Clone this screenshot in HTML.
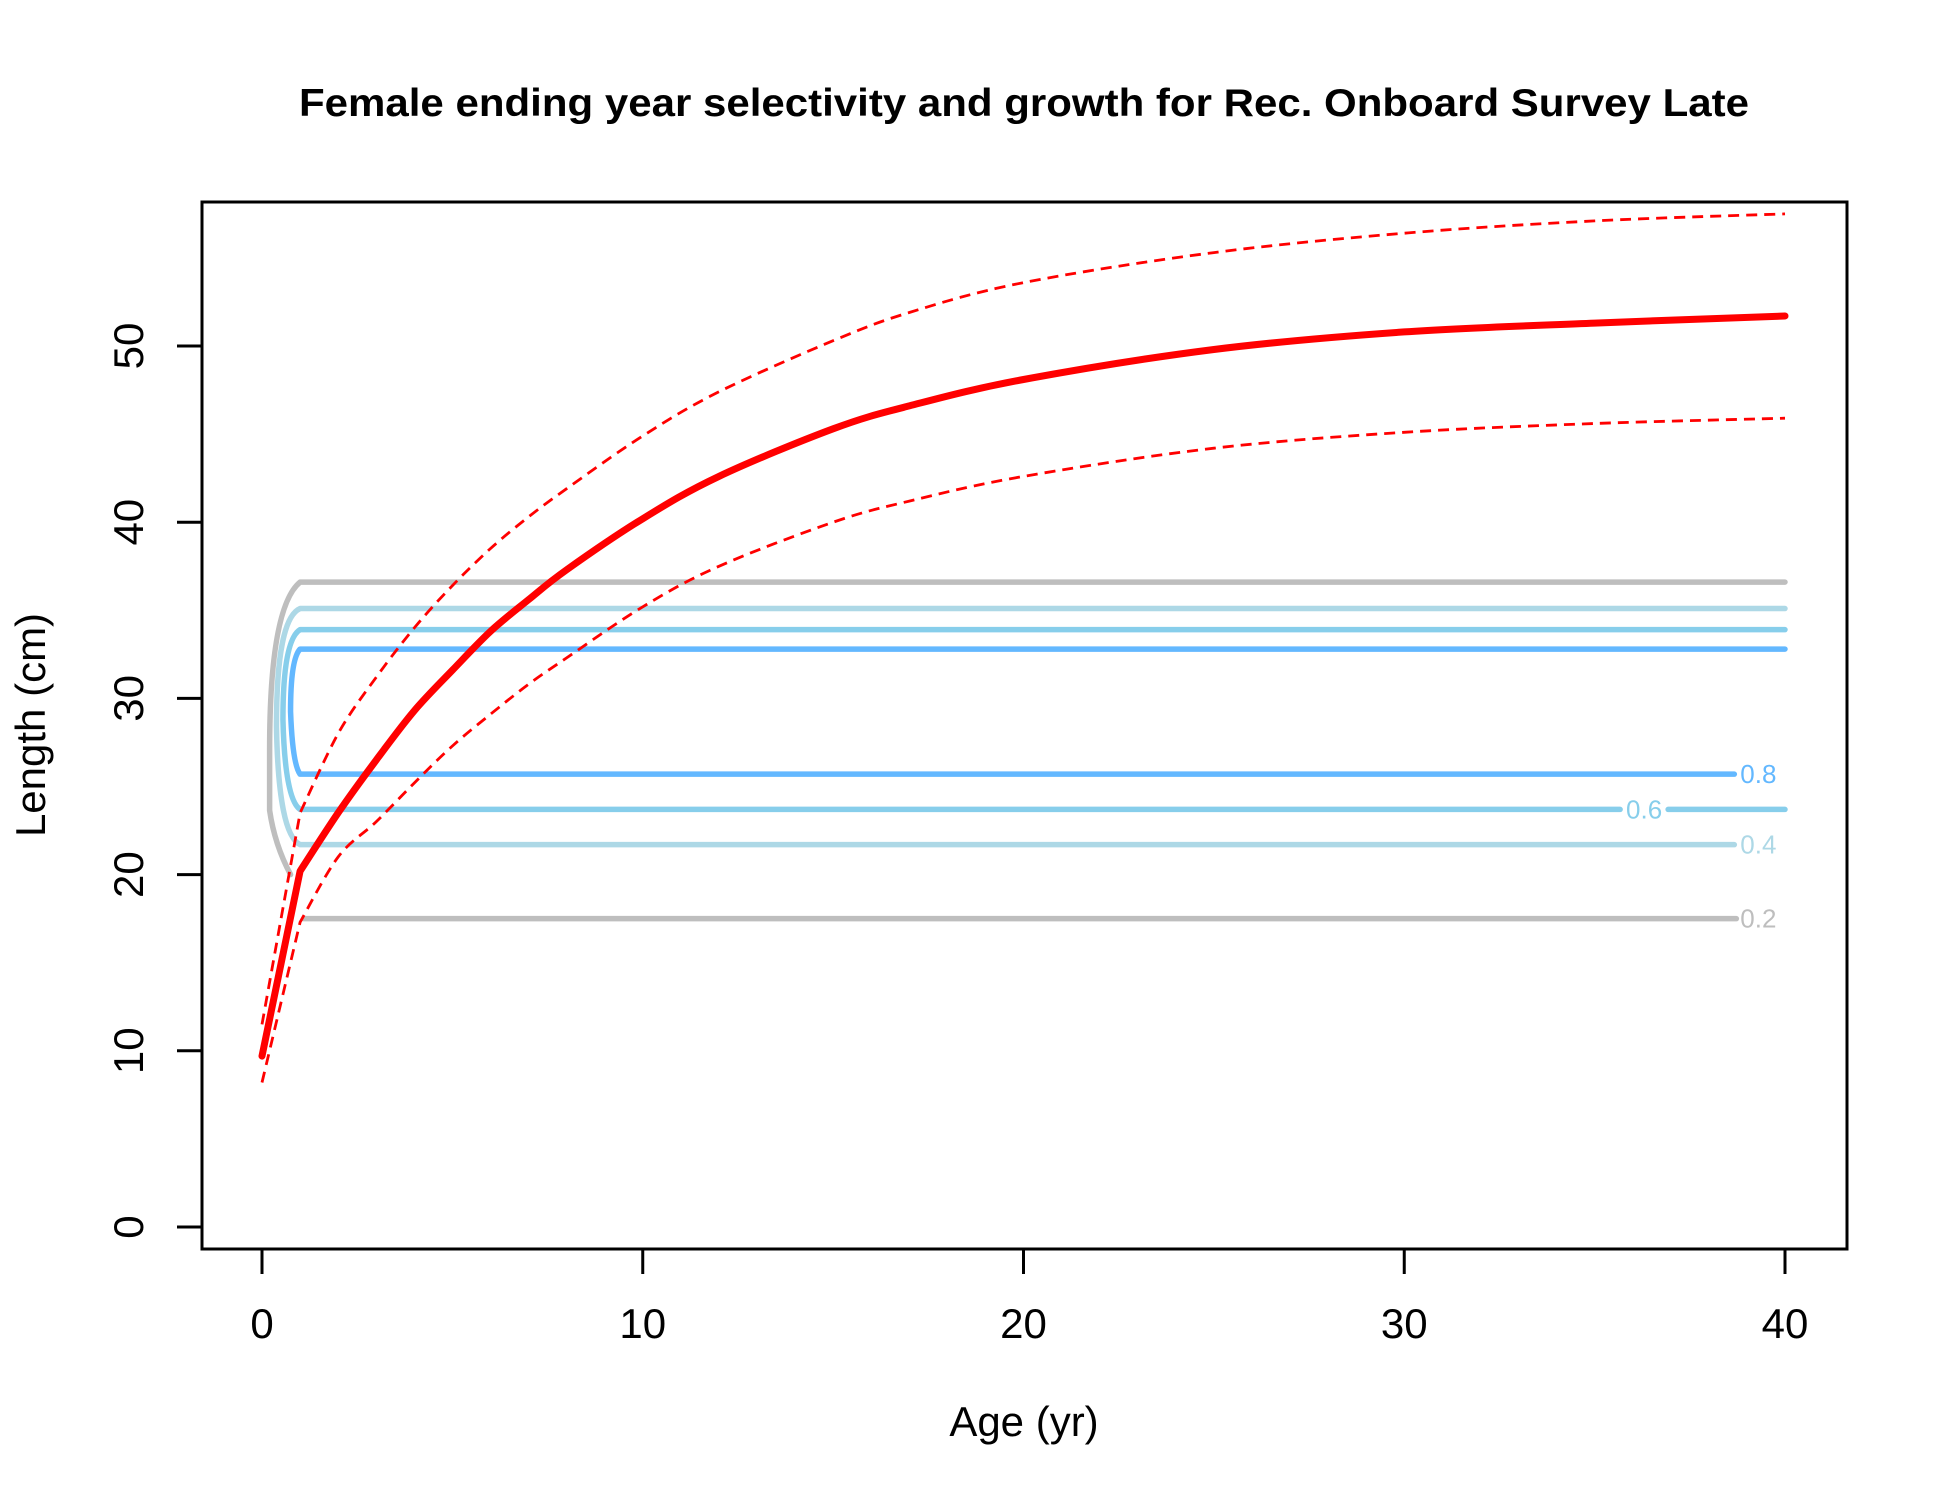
<!DOCTYPE html>
<html><head><meta charset="utf-8"><style>
html,body{margin:0;padding:0;background:#fff;}
svg{display:block;font-family:"Liberation Sans",Arial,sans-serif;}
</style></head><body>
<svg id="chart" width="1950" height="1500" viewBox="0 0 1950 1500" xmlns="http://www.w3.org/2000/svg">
<rect x="0" y="0" width="1950" height="1500" fill="#fff"/>
<text x="1024" y="116" text-anchor="middle" font-size="39" font-weight="bold" textLength="1450" lengthAdjust="spacingAndGlyphs">Female ending year selectivity and growth for Rec. Onboard Survey Late</text>
<g id="marks"></g>
<rect x="202" y="202" width="1645" height="1047" fill="none" stroke="#000" stroke-width="3"/>
<g id="axes"></g>
<text x="1024" y="1436" text-anchor="middle" font-size="42">Age (yr)</text>
<text x="45" y="725" text-anchor="middle" font-size="42" transform="rotate(-90 45 725)">Length (cm)</text>
</svg>
<script>
const xTicks = [0, 10, 20, 30, 40];
const yTicks = [0, 10, 20, 30, 40, 50];
const ages = [0, 1, 2, 3, 4, 5, 6, 7, 8, 10, 12, 15, 17, 20, 25, 30, 35, 40];
const meanLen = [9.7, 20.2, 23.5, 26.5, 29.3, 31.6, 33.8, 35.6, 37.3, 40.2, 42.6, 45.3, 46.6, 48.1, 49.8, 50.8, 51.3, 51.7];
const upperLen = [11.5, 23.5, 28.0, 31.2, 34.0, 36.4, 38.5, 40.3, 41.9, 44.9, 47.4, 50.3, 51.9, 53.6, 55.3, 56.4, 57.1, 57.5];
const lowerLen = [8.2, 17.3, 21.0, 23.0, 25.2, 27.3, 29.1, 30.8, 32.3, 35.2, 37.5, 40.0, 41.2, 42.6, 44.2, 45.1, 45.6, 45.9];
const levels = [0.2, 0.4, 0.6, 0.8];
const levelTop = [36.6, 35.1, 33.9, 32.8];
const levelBottom = [17.5, 21.7, 23.7, 25.7];
const levelLeftAge = [0.2, 0.38, 0.55, 0.75];
const levelLabelAge = [39.3, 39.3, 36.3, 39.3];
const levelColors = ['#bebebe', '#add8e6', '#87ceeb', '#63b8ff'];

const X0 = 262, X1 = 1785, Y0 = 1227, Y1 = 346;
function sx(a){ return X0 + (X1 - X0) * a / 40; }
function sy(v){ return Y0 + (Y1 - Y0) * v / 50; }
const NS = 'http://www.w3.org/2000/svg';
const marks = document.getElementById('marks');
const axes = document.getElementById('axes');
function mk(tag, attrs, parent){
  const e = document.createElementNS(NS, tag);
  for (const k in attrs) e.setAttribute(k, attrs[k]);
  parent.appendChild(e);
  return e;
}

levels.forEach((lv, i) => {
  const c = levelColors[i];
  const top = sy(levelTop[i]), bot = sy(levelBottom[i]);
  const xl = sx(levelLeftAge[i]), x1 = sx(1), xe = sx(40);
  const mid = (top + bot) / 2;
  let d;
  const labX = sx(levelLabelAge[i]);
  if (i === 0) {
    const hookEnd = sy(20);
    d = 'M' + xe + ' ' + top + ' L' + x1 + ' ' + top + ' Q' + xl + ' ' + (top + 25) + ' ' + xl + ' ' + mid +
        ' L' + xl + ' ' + (mid + 60) + ' Q' + (xl + 5) + ' ' + (hookEnd - 30) + ' ' + sx(0.75) + ' ' + hookEnd;
    const p = mk('path', {d: d, fill: 'none', stroke: c, 'stroke-width': 5.5, 'stroke-linecap': 'round', 'stroke-linejoin': 'round'}, marks);
    
    
    const l = mk('path', {d: 'M' + sx(1.1) + ' ' + bot + ' L' + (labX - 22) + ' ' + bot, fill: 'none', stroke: c, 'stroke-width': 5.5, 'stroke-linecap': 'round'}, marks);
    
    
  } else {
    const gapEnd = (levelLabelAge[i] < 38) ? labX + 24 : null;
    d = 'M' + xe + ' ' + top + ' L' + x1 + ' ' + top + ' Q' + xl + ' ' + (top + 10) + ' ' + xl + ' ' + mid +
        ' Q' + (xl + 2) + ' ' + (bot - 10) + ' ' + x1 + ' ' + bot + ' L' + (labX - 24) + ' ' + bot;
    const p = mk('path', {d: d, fill: 'none', stroke: c, 'stroke-width': 5.5, 'stroke-linecap': 'round', 'stroke-linejoin': 'round'}, marks);
    
    
    if (gapEnd) {
      const g = mk('path', {d: 'M' + gapEnd + ' ' + bot + ' L' + xe + ' ' + bot, fill: 'none', stroke: c, 'stroke-width': 5.5, 'stroke-linecap': 'round'}, marks);
      
      
    }
  }
  const t = mk('text', {x: labX, y: bot + 9, 'text-anchor': 'middle', 'font-size': 26, fill: c}, marks);
  t.textContent = String(lv);
  
  
});

function line(vals, attrs, name){
  const pts = ages.map((a, i) => [sx(a), sy(vals[i])]);
  let d = 'M' + pts[0][0].toFixed(1) + ' ' + pts[0][1].toFixed(1) + ' L' + pts[1][0].toFixed(1) + ' ' + pts[1][1].toFixed(1);
  for (let i = 1; i < pts.length - 1; i++) {
    const p0 = pts[i - 1 < 1 ? 1 : i - 1], p1 = pts[i], p2 = pts[i + 1], p3 = pts[Math.min(i + 2, pts.length - 1)];
    const c1 = [p1[0] + (p2[0] - p0[0]) / 6, p1[1] + (p2[1] - p0[1]) / 6];
    const c2 = [p2[0] - (p3[0] - p1[0]) / 6, p2[1] - (p3[1] - p1[1]) / 6];
    d += ' C' + c1[0].toFixed(1) + ' ' + c1[1].toFixed(1) + ' ' + c2[0].toFixed(1) + ' ' + c2[1].toFixed(1) + ' ' + p2[0].toFixed(1) + ' ' + p2[1].toFixed(1);
  }
  const p = mk('path', Object.assign({d: d, fill: 'none'}, attrs), marks);
  
  
}
line(upperLen, {stroke: '#ff0000', 'stroke-width': 2.8, 'stroke-dasharray': '11 7'}, 'growth-upper-ci');
line(lowerLen, {stroke: '#ff0000', 'stroke-width': 2.8, 'stroke-dasharray': '11 7'}, 'growth-lower-ci');
line(meanLen, {stroke: '#ff0000', 'stroke-width': 7, 'stroke-linejoin': 'round', 'stroke-linecap': 'round'}, 'growth-mean');

xTicks.forEach(v => {
  const x = sx(v);
  const tk = mk('line', {x1: x, x2: x, y1: 1249, y2: 1274, stroke: '#000', 'stroke-width': 3}, axes);
  
  
  const t = mk('text', {x: x, y: 1338, 'text-anchor': 'middle', 'font-size': 42}, axes);
  t.textContent = String(v);
  
  
});
yTicks.forEach(v => {
  const y = sy(v);
  const tk = mk('line', {x1: 177, x2: 202, y1: y, y2: y, stroke: '#000', 'stroke-width': 3}, axes);
  
  
  const t = mk('text', {x: 143, y: y, 'text-anchor': 'middle', 'font-size': 42, transform: 'rotate(-90 143 ' + y + ')'}, axes);
  t.textContent = String(v);
  
  
});
</script>
</body></html>
